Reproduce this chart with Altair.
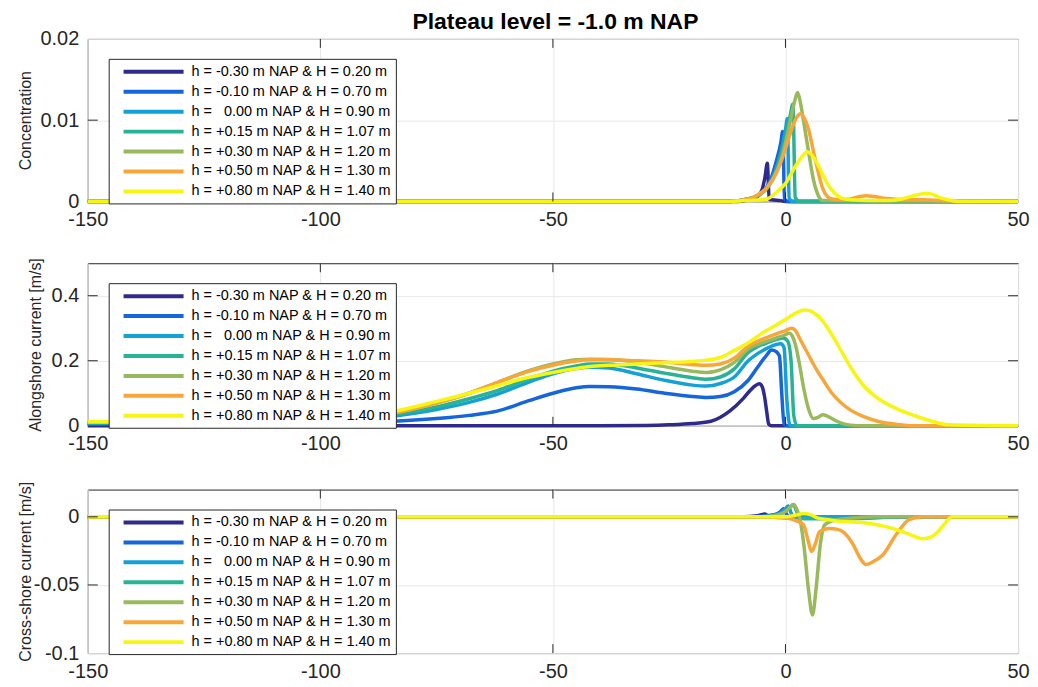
import altair as alt
import pandas as pd

TITLE = "Plateau level = -1.0 m NAP"
X_TICKS = [-150, -100, -50, 0, 50]
SERIES = [
    "h = -0.30 m NAP & H = 0.20 m",
    "h = -0.10 m NAP & H = 0.70 m",
    "h =\u00a0\u00a0\u00a00.00 m NAP & H = 0.90 m",
    "h = +0.15 m NAP & H = 1.07 m",
    "h = +0.30 m NAP & H = 1.20 m",
    "h = +0.50 m NAP & H = 1.30 m",
    "h = +0.80 m NAP & H = 1.40 m",
]
COLORS = ["#2e2b8c", "#1565dc", "#16a0d8", "#27b394", "#98ba5c", "#f8a63a", "#f6f612"]

# ---------------- Concentration ----------------
conc_x_1 = [-150, -10, -8, -6, -5, -4.4, -3.9, -3.5, -3, -1, 0, 50]
conc_y_1 = [0, 0, 0.0002, 0.0006, 0.0015, 0.003, 0.0047, 0.0003, 0.0002, 0.0001, 0, 0]
conc_x_2 = [-150, -12, -8, -6, -4, -3, -2, -1, -0.6, -0.2, 0.5, 50]
conc_y_2 = [0, 0, 0.0003, 0.0007, 0.0018, 0.003, 0.0049, 0.0072, 0.0086, 0.0003, 0, 0]
conc_x_3 = [-150, -12, -8, -6, -4, -3, -2, -1, 0, 0.4, 0.8, 1.5, 50]
conc_y_3 = [0, 0, 0.0003, 0.0007, 0.0017, 0.0027, 0.0041, 0.006, 0.0088, 0.0102, 0.0004, 0, 0]
conc_x_4 = [-150, -12, -8, -6, -4, -2, -1, 0, 1, 1.6, 2.1, 3, 50]
conc_y_4 = [0, 0, 0.0003, 0.0007, 0.0016, 0.0037, 0.0055, 0.0078, 0.0105, 0.012, 0.0005, 0, 0]
conc_x_5 = [-150, -12, -8, -6, -4, -2, -1, 0, 1, 2, 2.6, 3.2, 4, 5, 6, 7, 8, 50]
conc_y_5 = [0, 0, 0.0003, 0.0007, 0.0016, 0.0035, 0.005, 0.0072, 0.0098, 0.0124, 0.0134, 0.0122,
            0.0095, 0.006, 0.0027, 0.0008, 0.0001, 0]
conc_x_6 = [-150, -12, -8, -6, -4, -2, -1, 0, 1, 2, 3.2, 4, 5, 6, 7, 8, 9, 10, 12, 14, 16, 17.5,
            19, 21, 23, 26, 30, 34, 50]
conc_y_6 = [0, 0, 0.0003, 0.0008, 0.0017, 0.0035, 0.0048, 0.0065, 0.0083, 0.0099, 0.0108, 0.0103,
            0.0088, 0.0062, 0.0037, 0.0016, 0.0006, 0.0003, 0.0002, 0.0003, 0.0006, 0.0007,
            0.0006, 0.0004, 0.0003, 0.0002, 0.0002, 0.0001, 0]
conc_x_7 = [-150, -12, -8, -4, -2, 0, 2, 3, 4, 4.7, 5.5, 6.6, 8, 9, 10, 11, 12, 14, 18, 22, 25,
            27, 29, 30, 31.5, 33, 35, 37, 50]
conc_y_7 = [0, 0, 0.0001, 0.0003, 0.0011, 0.0022, 0.0042, 0.0051, 0.0058, 0.0061, 0.0058, 0.0049,
            0.0033, 0.0022, 0.0014, 0.0008, 0.0004, 0.0002, 0.0001, 0.0001, 0.0003, 0.0006,
            0.0009, 0.001, 0.0009, 0.0005, 0.0002, 0, 0]

# ---------------- Alongshore current ----------------
along_x_1 = [-150, -40, -30, -25, -20, -16, -12, -9, -7.5, -6.5, -5.6, -5, -4.5, -4, -3.6, -3, 50]
along_y_1 = [0, 0, 0.001, 0.003, 0.007, 0.014, 0.045, 0.085, 0.11, 0.123, 0.129, 0.12, 0.09, 0.04,
             0.005, 0, 0]
along_x_2 = [-150, -110, -95, -85, -75, -68, -62, -55, -50, -45, -42, -38, -32, -26, -20, -17, -14,
             -11, -8, -6, -4, -3, -2, -1.3, -0.8, -0.3, 0.5, 50]
along_y_2 = [0.005, 0.006, 0.009, 0.013, 0.022, 0.032, 0.045, 0.078, 0.1, 0.117, 0.121, 0.12, 0.113,
             0.1, 0.09, 0.087, 0.09, 0.105, 0.14, 0.18, 0.218, 0.233, 0.228, 0.215, 0.1, 0.005, 0, 0]
along_x_3 = [-150, -110, -95, -85, -75, -68, -62, -55, -50, -45, -42, -38, -32, -26, -20, -17, -14,
             -11, -8, -6, -4, -2, -1, -0.3, 0.3, 1, 50]
along_y_3 = [0.008, 0.009, 0.013, 0.028, 0.05, 0.072, 0.097, 0.135, 0.16, 0.176, 0.18, 0.178, 0.16,
             0.14, 0.125, 0.122, 0.13, 0.15, 0.2, 0.222, 0.238, 0.25, 0.252, 0.24, 0.08, 0, 0]
along_x_4 = [-150, -110, -95, -85, -75, -68, -62, -55, -50, -45, -42, -38, -32, -26, -20, -17, -14,
             -11, -8, -6, -4, -2, -0.5, 0.5, 1.2, 1.8, 2.5, 50]
along_y_4 = [0.009, 0.01, 0.015, 0.032, 0.058, 0.083, 0.108, 0.145, 0.168, 0.184, 0.19, 0.19, 0.178,
             0.162, 0.148, 0.143, 0.15, 0.175, 0.226, 0.243, 0.255, 0.265, 0.27, 0.26, 0.2, 0.03, 0, 0]
along_x_5 = [-150, -110, -95, -85, -75, -68, -62, -55, -50, -45, -42, -38, -32, -26, -20, -17, -14,
             -11, -8, -5, -2, 0, 0.8, 1.5, 2.3, 3, 4, 5, 6, 7, 8, 9, 10.5, 12, 14, 17, 50]
along_y_5 = [0.011, 0.012, 0.018, 0.037, 0.07, 0.1, 0.133, 0.17, 0.19, 0.203, 0.205, 0.204, 0.196,
             0.182, 0.168, 0.164, 0.172, 0.195, 0.236, 0.255, 0.27, 0.28, 0.285, 0.275, 0.24, 0.19,
             0.11, 0.05, 0.022, 0.026, 0.034, 0.03, 0.018, 0.008, 0.002, 0, 0]
along_x_6 = [-150, -110, -95, -85, -75, -68, -62, -55, -50, -45, -42, -38, -32, -26, -20, -17, -14,
             -11, -8, -5, -2, 0, 1.3, 2.2, 3, 4, 5, 6, 7, 8, 10, 12, 14, 17, 20, 24, 28, 50]
along_y_6 = [0.011, 0.012, 0.018, 0.037, 0.07, 0.1, 0.133, 0.168, 0.186, 0.199, 0.203, 0.203, 0.2,
             0.196, 0.188, 0.186, 0.19, 0.208, 0.245, 0.266, 0.283, 0.293, 0.3, 0.292, 0.27, 0.243,
             0.217, 0.19, 0.165, 0.143, 0.1, 0.07, 0.048, 0.027, 0.013, 0.004, 0, 0]
along_x_7 = [-150, -110, -95, -85, -75, -68, -62, -55, -50, -45, -42, -38, -32, -26, -20, -17, -14,
             -11, -8, -5, -2, 0, 2, 3, 4, 5, 6, 7, 8, 10, 12, 14, 17, 20, 24, 28, 32, 35, 50]
along_y_7 = [0.012, 0.013, 0.022, 0.042, 0.075, 0.1, 0.123, 0.15, 0.164, 0.176, 0.182, 0.186, 0.19,
             0.194, 0.198, 0.202, 0.21, 0.232, 0.255, 0.285, 0.31, 0.327, 0.345, 0.352, 0.356, 0.355,
             0.348, 0.338, 0.322, 0.28, 0.23, 0.18, 0.12, 0.083, 0.052, 0.03, 0.012, 0.003, 0]

# ---------------- Cross-shore current ----------------
cross_x_1 = [-150, -9, -6, -4.5, -3.7, -3, 50]
cross_y_1 = [0, 0, 0.0008, 0.002, 0.0005, 0, 0]
cross_x_2 = [-150, -8, -4, -2, -1, -0.4, 0.2, 1, 50]
cross_y_2 = [0, 0, 0.0008, 0.002, 0.004, 0.006, 0.002, 0, 0]
cross_x_3 = [-150, -6, -3, -1, 0, 0.6, 1.2, 2, 4, 50]
cross_y_3 = [0, 0, 0.001, 0.003, 0.006, 0.008, 0.003, -0.001, 0, 0]
cross_x_4 = [-150, -5, -2, 0, 1, 1.7, 2.4, 3.2, 5, 10, 18, 25, 50]
cross_y_4 = [0, 0, 0.001, 0.004, 0.007, 0.009, 0.004, -0.001, -0.0015, -0.0015, -0.001, 0, 0]
cross_x_5 = [-150, -5, -2, 0, 1, 1.8, 2.5, 3.2, 4, 5, 5.8, 6.6, 7.5, 8.4, 10, 14, 20, 50]
cross_y_5 = [0, 0, 0.001, 0.004, 0.007, 0.009, 0.005, -0.003, -0.022, -0.055, -0.072, -0.052, -0.02,
             -0.006, -0.003, -0.001, 0, 0]
cross_x_6 = [-150, -5, -2, 0, 1.7, 3.9, 4.9, 5.6, 6.4, 7.3, 9.4, 11, 12.4, 14.5, 16, 17.3, 18.8,
             20.9, 23.8, 26.6, 29.5, 50]
cross_y_6 = [0, 0, -0.0005, -0.001, -0.002, -0.006, -0.018, -0.0255, -0.02, -0.011, -0.0085, -0.009,
             -0.011, -0.02, -0.03, -0.035, -0.033, -0.028, -0.013, -0.002, 0, 0]
cross_x_7 = [-150, -5, 0, 2, 3.9, 5.5, 7, 9, 11, 16, 20, 23, 26, 29.5, 31.5, 33, 34.5, 35.8, 50]
cross_y_7 = [0, 0, 0, 0.001, 0.0025, 0.0015, -0.001, -0.002, -0.003, -0.004, -0.006, -0.0085, -0.012,
             -0.016, -0.0145, -0.01, -0.004, 0, 0]


def frame(xs, ys):
    parts = []
    for i, (x, y) in enumerate(zip(xs, ys)):
        parts.append(pd.DataFrame({"x": x, "y": y, "series": SERIES[i], "k": i}))
    return pd.concat(parts, ignore_index=True)


conc_df = frame([conc_x_1, conc_x_2, conc_x_3, conc_x_4, conc_x_5, conc_x_6, conc_x_7],
                [conc_y_1, conc_y_2, conc_y_3, conc_y_4, conc_y_5, conc_y_6, conc_y_7])
along_df = frame([along_x_1, along_x_2, along_x_3, along_x_4, along_x_5, along_x_6, along_x_7],
                 [along_y_1, along_y_2, along_y_3, along_y_4, along_y_5, along_y_6, along_y_7])
cross_df = frame([cross_x_1, cross_x_2, cross_x_3, cross_x_4, cross_x_5, cross_x_6, cross_x_7],
                 [cross_y_1, cross_y_2, cross_y_3, cross_y_4, cross_y_5, cross_y_6, cross_y_7])

W = 933
LABEL_EXPR = "replace(format(datum.value, '~g'), '\u2212', '-')"


def panel(df, ytitle, ydom, yticks, height, title_x):
    xenc = alt.X("x:Q", scale=alt.Scale(domain=[-150, 50], nice=False, zero=False),
                 axis=alt.Axis(values=X_TICKS, title=None, labelExpr=LABEL_EXPR, labelFlush=False))
    yenc = alt.Y("y:Q", scale=alt.Scale(domain=ydom, nice=False, zero=False),
                 axis=alt.Axis(values=yticks, title=ytitle, labelExpr=LABEL_EXPR, labelFlush=False,
                               titleX=title_x, titleBaseline="alphabetic"))
    color = alt.Color(
        "series:N",
        scale=alt.Scale(domain=SERIES, range=COLORS),
        legend=alt.Legend(
            title=None, orient="none", legendX=21, legendY=20,
            symbolType="M-4.3,0H4.3", symbolSize=196, symbolStrokeWidth=4,
            labelFont="Liberation Sans", labelFontSize=14.5, labelColor="#000000",
            labelLimit=0, padding=4, symbolOffset=32, labelOffset=29, rowPadding=3,
            strokeColor="#262626", fillColor="white",
        ),
    )
    lines = alt.Chart(df).mark_line(strokeWidth=3.5, strokeJoin="round",
                                    interpolate="monotone").encode(
        x=xenc, y=yenc, color=color
    )
    # inward tick marks like the reference box axes
    lx = 10 * 200 / W
    ly = 9 * (ydom[1] - ydom[0]) / height
    rows = []
    for xv in [-100, -50, 0]:
        rows.append({"x": xv, "x2": xv, "y": ydom[0], "y2": ydom[0] + ly})
        rows.append({"x": xv, "x2": xv, "y": ydom[1], "y2": ydom[1] - ly})
    for yv in yticks:
        if ydom[0] < yv < ydom[1]:
            rows.append({"x": -150, "x2": -150 + lx, "y": yv, "y2": yv})
            rows.append({"x": 50, "x2": 50 - lx, "y": yv, "y2": yv})
    ticks = alt.Chart(pd.DataFrame(rows)).mark_rule(color="#262626", strokeWidth=1).encode(
        x=xenc, x2="x2:Q", y=yenc, y2="y2:Q"
    )
    return alt.layer(lines, ticks).properties(width=W, height=height)


p1 = panel(conc_df, "Concentration", [0, 0.02], [0, 0.01, 0.02], 163, -57)
p2 = panel(along_df, "Alongshore current [m/s]", [0, 0.5], [0, 0.2, 0.4], 163, -47)
p3 = panel(cross_df, "Cross-shore current [m/s]", [-0.1, 0.02], [-0.1, -0.05, 0], 164, -57)

chart = (
    alt.vconcat(p1, p2, p3, spacing=26)
    .resolve_legend(color="independent")
    .properties(
        title=alt.TitleParams(TITLE, fontSize=23, fontWeight="bold", font="Liberation Sans",
                              anchor="middle", color="#000000", offset=-24, baseline="alphabetic",
                              dx=32),
        padding={"left": 9, "top": 2, "right": 0, "bottom": 0},
    )
    .configure_view(stroke="#262626", strokeWidth=1)
    .configure_axis(
        labelFont="Liberation Sans", labelFontSize=20, labelColor="#262626",
        titleFont="Liberation Sans", titleFontSize=16, titleFontWeight="normal", titleColor="#262626",
        ticks=False, domain=False, grid=True, gridColor="#e8e8e8", gridWidth=1,
    )
    .configure_axisX(labelPadding=8)
    .configure_axisY(labelPadding=9)
)

chart.save("out.html", embed_options={"renderer": "svg", "actions": False})
